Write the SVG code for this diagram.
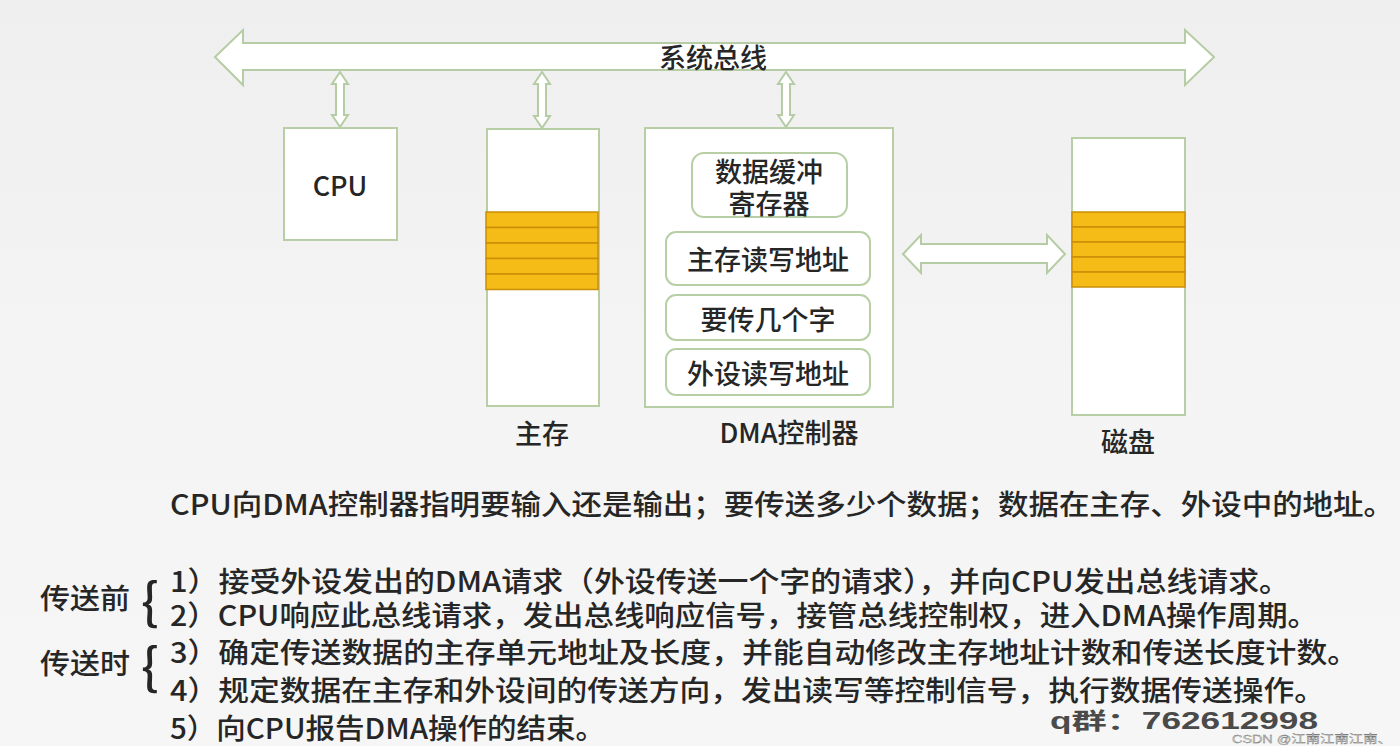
<svg xmlns="http://www.w3.org/2000/svg" width="1400" height="746" viewBox="0 0 1400 746">
<defs>
<linearGradient id="bg" x1="0" y1="0" x2="0" y2="1">
<stop offset="0" stop-color="#eeefee"/>
<stop offset="0.5" stop-color="#f3f4f3"/>
<stop offset="1" stop-color="#f5f6f5"/>
</linearGradient>
</defs>
<style>
.box{fill:#ffffff;stroke:#b8cfa6;stroke-width:2}
.rbox{fill:#ffffff;stroke:#b8cfa6;stroke-width:2}
.arr{fill:#ffffff;stroke:#b6cca4;stroke-width:2;stroke-linejoin:miter}
.band{fill:#f5bb16;stroke:#c98f08;stroke-width:1.5}
.t{font-family:"Noto Sans CJK SC","Noto Sans",sans-serif;fill:#262626;font-weight:500}
.lbl{font-size:27px;text-anchor:middle;dominant-baseline:central}
.body{font-size:28px;dominant-baseline:central}
</style>
<rect width="1400" height="746" fill="url(#bg)"/>

<g id="connectors">
<polygon id="system-bus" class="arr" points="215,57 243,30 243,43 1185,43 1185,30 1214,57 1185,85 1185,70 243,70 243,85"/>
<polygon class="arr" points="340,72 348,84 344,84 344,115 348,115 340,127 332,115 336,115 336,84 332,84"/>
<polygon class="arr" points="542,72 550,84 546,84 546,116 550,116 542,128 534,116 538,116 538,84 534,84"/>
<polygon class="arr" points="786,72 794,84 790,84 790,115 794,115 786,127 778,115 782,115 782,84 778,84"/>
<polygon class="arr" points="903,254 921,235 921,244 1047,244 1047,235 1065,254 1047,273 1047,263 921,263 921,273"/>
</g>
<text class="t lbl" x="713" y="56" font-size="28">系统总线</text>

<g id="cpu">
<rect class="box" x="284" y="128" width="113" height="112"/>
<text class="t lbl" x="340" y="184" font-size="26">CPU</text>
</g>

<g id="main-memory">
<rect class="box" x="487" y="129" width="112" height="277"/>
<rect class="band" x="486" y="212" width="112" height="15.5"/>
<rect class="band" x="486" y="227.5" width="112" height="15.5"/>
<rect class="band" x="486" y="243" width="112" height="15.5"/>
<rect class="band" x="486" y="258.5" width="112" height="15.5"/>
<rect class="band" x="486" y="274" width="112" height="15.5"/>
<text class="t lbl" x="542" y="432" font-size="28">主存</text>
</g>

<g id="dma-controller">
<rect class="box" x="645" y="128" width="248" height="279"/>
<rect class="rbox" x="692" y="153" width="155" height="64" rx="12"/>
<text class="t lbl" font-size="24"><tspan x="769" y="170">数据缓冲</tspan><tspan x="769" y="202">寄存器</tspan></text>
<rect class="rbox" x="666" y="232" width="204" height="53" rx="10"/>
<text class="t lbl" x="768" y="258" font-size="25">主存读写地址</text>
<rect class="rbox" x="666" y="295" width="204" height="45" rx="10"/>
<text class="t lbl" x="768" y="318" font-size="25">要传几个字</text>
<rect class="rbox" x="666" y="349" width="204" height="46" rx="10"/>
<text class="t lbl" x="768" y="372" font-size="25">外设读写地址</text>
<text class="t lbl" x="789" y="431" font-size="27">DMA控制器</text>
</g>

<g id="disk">
<rect class="box" x="1072" y="138" width="113" height="277"/>
<rect class="band" x="1072" y="212" width="113" height="15"/>
<rect class="band" x="1072" y="227" width="113" height="15"/>
<rect class="band" x="1072" y="242" width="113" height="15"/>
<rect class="band" x="1072" y="257" width="113" height="15"/>
<rect class="band" x="1072" y="272" width="113" height="15"/>
<text class="t lbl" x="1128" y="440" font-size="28">磁盘</text>
</g>

<g id="description">
<text class="t body" x="170" y="503" font-size="29" textLength="1224" lengthAdjust="spacingAndGlyphs">CPU向DMA控制器指明要输入还是输出；要传送多少个数据；数据在主存、外设中的地址。</text>
<text class="t body" x="40" y="597" textLength="90" lengthAdjust="spacingAndGlyphs">传送前</text>
<text class="t body" x="40" y="662" textLength="90" lengthAdjust="spacingAndGlyphs">传送时</text>
<text class="t" x="150" y="598" font-size="50" text-anchor="middle" dominant-baseline="central" font-family="Liberation Serif,serif" font-weight="400">{</text>
<text class="t" x="150" y="663" font-size="50" text-anchor="middle" dominant-baseline="central" font-family="Liberation Serif,serif" font-weight="400">{</text>
<text class="t body"><tspan x="170" y="580" textLength="1120" lengthAdjust="spacingAndGlyphs">1）接受外设发出的DMA请求（外设传送一个字的请求），并向CPU发出总线请求。</tspan><tspan x="170" y="614" textLength="1148" lengthAdjust="spacingAndGlyphs">2）CPU响应此总线请求，发出总线响应信号，接管总线控制权，进入DMA操作周期。</tspan><tspan x="170" y="651" textLength="1188" lengthAdjust="spacingAndGlyphs">3）确定传送数据的主存单元地址及长度，并能自动修改主存地址计数和传送长度计数。</tspan><tspan x="170" y="689" textLength="1155" lengthAdjust="spacingAndGlyphs">4）规定数据在主存和外设间的传送方向，发出读写等控制信号，执行数据传送操作。</tspan><tspan x="170" y="727" textLength="435" lengthAdjust="spacingAndGlyphs">5）向CPU报告DMA操作的结束。</tspan></text>
</g>

<text x="1050" y="721" font-family="Liberation Sans,'Noto Sans CJK SC',sans-serif" font-size="23" font-weight="700" fill="#4a4a4a" dominant-baseline="central" textLength="268" lengthAdjust="spacingAndGlyphs">q群：762612998</text>
<text x="1232" y="739" font-family="Liberation Sans,'Noto Sans CJK SC',sans-serif" font-size="11" fill="#d8d8d8" stroke="#666" stroke-width="0.3" dominant-baseline="central" textLength="160" lengthAdjust="spacingAndGlyphs">CSDN @江南江南江南、</text>
</svg>
